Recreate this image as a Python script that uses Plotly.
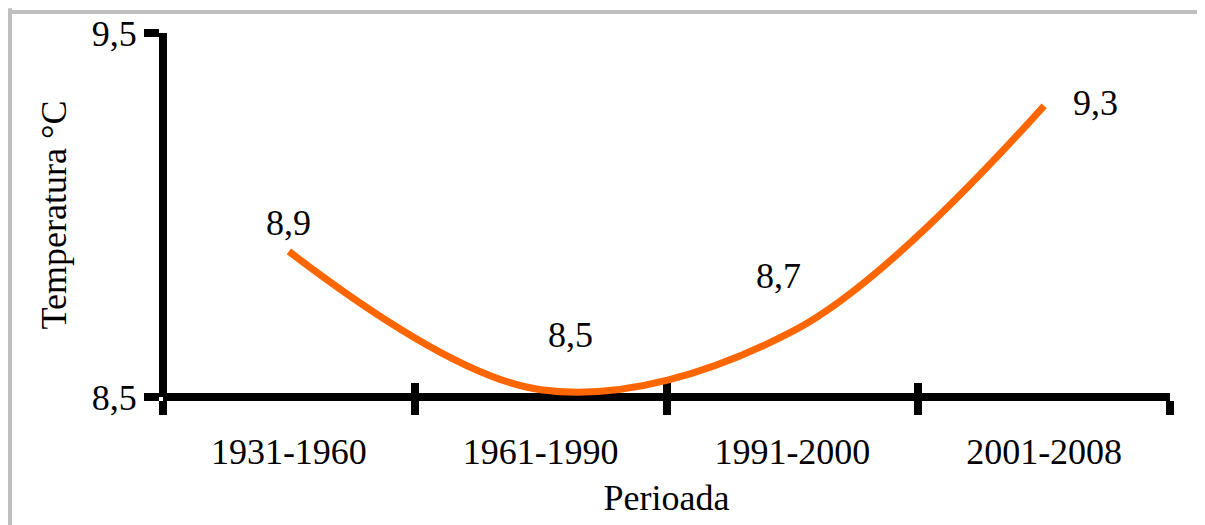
import plotly.graph_objects as go

# ── data ────────────────────────────────────────────────────
periods = ['1931-1960', '1961-1990', '1991-2000', '2001-2008']
temps = [8.9, 8.52, 8.68, 9.3]
temp_labels = ['8,9', '8,5', '8,7', '9,3']
ytick_vals = [8.5, 9.5]
ytick_text = ['8,5', '9,5']
boundaries = [-0.5, 0.5, 1.5, 2.5, 3.5]

# label offsets (px) relative to their point
label_shift = [(0, 28), (30, 55), (-14, 55), (51, 3)]

FONT = 'Times New Roman, Liberation Serif, DejaVu Serif, serif'
ORANGE = '#FF6600'
W, H = 1205, 525
ML, MR, MT, MB = 155, 43, 25, 136

fig = go.Figure()

fig.add_trace(go.Scatter(
    x=periods, y=temps,
    mode='lines',
    line=dict(color=ORANGE, width=7, shape='spline', smoothing=1.0),
    showlegend=False, hoverinfo='skip',
))

# dummy trace so the overlay axes (inner half of the crossing ticks) get drawn
fig.add_trace(go.Scatter(
    x=[None], y=[None], xaxis='x2', yaxis='y2',
    mode='lines', showlegend=False, hoverinfo='skip',
))

for p, t, lab, (dx, dy) in zip(periods, temps, temp_labels, label_shift):
    fig.add_annotation(
        x=p, y=t, text=lab, showarrow=False,
        xanchor='center', yanchor='middle',
        xshift=dx, yshift=dy,
        font=dict(family=FONT, size=36, color='black'),
    )

# axes are 'free' at position 0 so the thick lines sit centred on the plot edge
fig.update_layout(
    width=W, height=H,
    margin=dict(l=ML, r=MR, t=MT, b=MB),
    plot_bgcolor='white',
    paper_bgcolor='white',
    font=dict(family=FONT, size=36, color='black'),
    xaxis=dict(
        type='category', range=[-0.5, 3.5],
        anchor='free', position=0, automargin=False, layer='below traces',
        showline=True, linecolor='black', linewidth=8,
        ticks='outside', tickson='boundaries', ticklen=14, tickwidth=8, tickcolor='black',
        showgrid=False, zeroline=False, ticklabelstandoff=20,
        tickfont=dict(family=FONT, size=36, color='black'),
        title=dict(text='Perioada', font=dict(family=FONT, size=36), standoff=13),
    ),
    yaxis=dict(
        range=[8.5, 9.5],
        anchor='free', position=0, automargin=False, layer='below traces',
        tickvals=ytick_vals, ticktext=ytick_text,
        showline=True, linecolor='black', linewidth=8,
        ticks='outside', ticklen=15, tickwidth=8, tickcolor='black',
        showgrid=False, zeroline=False,
        tickfont=dict(family=FONT, size=36, color='black'),
        title=dict(text='Temperatura °C', font=dict(family=FONT, size=36), standoff=13),
    ),
    xaxis2=dict(
        overlaying='x', anchor='free', position=0, side='bottom',
        automargin=False, layer='below traces',
        range=[-0.5, 3.5], tickvals=boundaries,
        ticks='inside', ticklen=14, tickwidth=8, tickcolor='black',
        showticklabels=False, showline=False, showgrid=False, zeroline=False,
    ),
    yaxis2=dict(
        overlaying='y', anchor='free', position=0, side='left',
        automargin=False, layer='below traces',
        range=[8.5, 9.5], tickvals=ytick_vals,
        ticks='inside', ticklen=15, tickwidth=8, tickcolor='black',
        showticklabels=False, showline=False, showgrid=False, zeroline=False,
    ),
)

# gray frame along the top and left edges (page has an 8px body margin)
pw, ph = W - ML - MR, H - MT - MB
top_y = 1 + (MT - 4) / ph
left_x = (2 - ML) / pw
fig.add_shape(type='line', xref='paper', yref='paper',
              x0=left_x - 0.01, x1=1.2, y0=top_y, y1=top_y,
              line=dict(color='#BFBFBF', width=4), layer='below')
fig.add_shape(type='line', xref='paper', yref='paper',
              x0=left_x, x1=left_x, y0=top_y + 0.01, y1=-0.6,
              line=dict(color='#BFBFBF', width=4), layer='below')

fig.write_html('out.html')
